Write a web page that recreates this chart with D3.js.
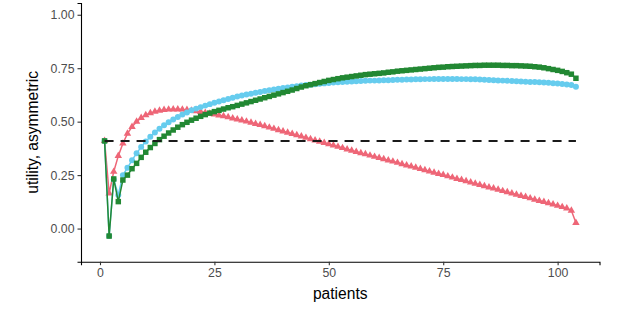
<!DOCTYPE html>
<html>
<head>
<meta charset="utf-8">
<script src="https://cdn.jsdelivr.net/npm/d3@7"></script>
<style>
  body { margin: 0; background: #fff; }
  svg { font-family: "Liberation Sans", Arial, sans-serif; }
</style>
</head>
<body>
<div id="chart"></div>
<script>
// patients 1..104
var patients = d3.range(1, 105);

// red triangles
var seriesRed = [
  0.410, 0.165, 0.266, 0.340, 0.398, 0.444, 0.476, 0.500, 0.518, 0.531,
  0.540, 0.547, 0.552, 0.555, 0.557, 0.558, 0.558, 0.557, 0.555, 0.552,
  0.549, 0.546, 0.542, 0.538, 0.534, 0.530, 0.526, 0.521, 0.516, 0.511,
  0.506, 0.501, 0.496, 0.490, 0.485, 0.479, 0.473, 0.467, 0.461, 0.455,
  0.449, 0.443, 0.437, 0.431, 0.425, 0.419, 0.413, 0.407, 0.401, 0.395,
  0.389, 0.383, 0.377, 0.371, 0.365, 0.359, 0.353, 0.348, 0.342, 0.336,
  0.331, 0.325, 0.319, 0.314, 0.308, 0.302, 0.296, 0.291, 0.285, 0.279,
  0.274, 0.268, 0.262, 0.256, 0.251, 0.245, 0.239, 0.233, 0.228, 0.222,
  0.216, 0.210, 0.205, 0.199, 0.193, 0.188, 0.182, 0.176, 0.171, 0.165,
  0.159, 0.153, 0.148, 0.142, 0.136, 0.130, 0.125, 0.119, 0.113, 0.107,
  0.101, 0.095, 0.084, 0.027
];

// cyan circles
var seriesCyan = [
  0.410, -0.035, 0.230, 0.157, 0.250, 0.284, 0.320, 0.352, 0.382, 0.407,
  0.429, 0.449, 0.467, 0.483, 0.497, 0.510, 0.522, 0.533, 0.543, 0.553,
  0.561, 0.568, 0.575, 0.582, 0.588, 0.594, 0.600, 0.606, 0.612, 0.618,
  0.622, 0.627, 0.631, 0.635, 0.639, 0.643, 0.647, 0.651, 0.654, 0.657,
  0.660, 0.663, 0.666, 0.669, 0.671, 0.673, 0.675, 0.677, 0.679, 0.681,
  0.683, 0.684, 0.686, 0.687, 0.688, 0.689, 0.690, 0.691, 0.692, 0.692,
  0.693, 0.694, 0.694, 0.695, 0.696, 0.696, 0.697, 0.697, 0.698, 0.698,
  0.699, 0.699, 0.700, 0.700, 0.700, 0.700, 0.700, 0.700, 0.699, 0.699,
  0.698, 0.698, 0.697, 0.696, 0.695, 0.694, 0.693, 0.692, 0.691, 0.690,
  0.689, 0.688, 0.687, 0.686, 0.685, 0.684, 0.683, 0.682, 0.680, 0.678,
  0.676, 0.674, 0.671, 0.663
];

// green squares
var seriesGreen = [
  0.410, -0.035, 0.232, 0.126, 0.227, 0.250, 0.280, 0.305, 0.333, 0.357,
  0.379, 0.398, 0.416, 0.432, 0.447, 0.461, 0.474, 0.486, 0.497, 0.507,
  0.516, 0.525, 0.533, 0.540, 0.547, 0.553, 0.559, 0.565, 0.570, 0.576,
  0.582, 0.588, 0.594, 0.600, 0.606, 0.612, 0.618, 0.624, 0.630, 0.636,
  0.642, 0.648, 0.655, 0.662, 0.668, 0.673, 0.678, 0.683, 0.688, 0.693,
  0.697, 0.701, 0.705, 0.708, 0.711, 0.714, 0.717, 0.720, 0.722, 0.724,
  0.726, 0.728, 0.731, 0.733, 0.736, 0.738, 0.740, 0.742, 0.744, 0.746,
  0.748, 0.750, 0.752, 0.754, 0.755, 0.757, 0.758, 0.759, 0.760, 0.761,
  0.762, 0.763, 0.763, 0.764, 0.764, 0.764, 0.764, 0.763, 0.763, 0.762,
  0.762, 0.761, 0.760, 0.759, 0.757, 0.755, 0.752, 0.748, 0.744, 0.740,
  0.735, 0.729, 0.722, 0.703
];

// dashed reference level
var threshold = 0.41;

var xTicks = [0, 25, 50, 75, 100];
var yTicks = [0, 0.25, 0.5, 0.75, 1];

var width = 623, height = 311;
var margin = { top: 3, right: 23.5, bottom: 49.3, left: 81 };

var svg = d3.select('#chart')
  .append('svg')
  .attr('width', width)
  .attr('height', height);

// ggplot style 5% expansion
var xMin = 1, xMax = 104, xPad = (xMax - xMin) * 0.05;
var x = d3.scaleLinear()
  .domain([xMin - xPad, xMax + xPad])
  .range([margin.left, width - margin.right]);

var yLo = -0.1, yHi = 1, yPad = (yHi - yLo) * 0.05;
var y = d3.scaleLinear()
  .domain([yLo - yPad, yHi + yPad])
  .range([height - margin.bottom, margin.top]);

var series = [
  { values: seriesRed, color: '#EE6677', shape: d3.symbolTriangle, size: 24 },
  { values: seriesCyan, color: '#66CCEE', shape: d3.symbolCircle, size: 28 },
  { values: seriesGreen, color: '#228833', shape: d3.symbolSquare, size: 30 }
];

var line = d3.line()
  .x(function (d) { return x(d[0]); })
  .y(function (d) { return y(d[1]); });

series.forEach(function (s) {
  var pts = patients.map(function (p, i) { return [p, s.values[i]]; });
  var g = svg.append('g');
  g.append('path')
    .datum(pts)
    .attr('d', line)
    .attr('fill', 'none')
    .attr('stroke', s.color)
    .attr('stroke-width', 1.5);
  g.selectAll('path.pt')
    .data(pts)
    .enter()
    .append('path')
    .attr('class', 'pt')
    .attr('transform', function (d) {
      return 'translate(' + x(d[0]) + ',' + y(d[1]) + ')';
    })
    .attr('d', d3.symbol().type(s.shape).size(s.size))
    .attr('fill', s.color);
});

// dashed threshold line
svg.append('path')
  .datum([[d3.min(patients), threshold], [d3.max(patients), threshold]])
  .attr('d', line)
  .attr('fill', 'none')
  .attr('stroke', '#1a1a1a')
  .attr('stroke-width', 2)
  .attr('stroke-dasharray', '9,7');

// axes
var xAxis = svg.append('g')
  .attr('transform', 'translate(0,' + (height - margin.bottom) + ')')
  .call(d3.axisBottom(x).tickValues(xTicks).tickSize(3.5).tickPadding(3)
    .tickFormat(d3.format('d')));

var yAxis = svg.append('g')
  .attr('transform', 'translate(' + margin.left + ',0)')
  .call(d3.axisLeft(y).tickValues(yTicks).tickSize(3.5).tickPadding(3)
    .tickFormat(d3.format('.2f')));

[xAxis, yAxis].forEach(function (a) {
  a.select('.domain').attr('stroke', '#000').attr('stroke-width', 1.1);
  a.selectAll('.tick line').attr('stroke', '#333').attr('stroke-width', 1.1);
  a.selectAll('.tick text')
    .attr('fill', '#4d4d4d')
    .style('font-size', '12.3px')
    .style('font-family', '"Liberation Sans", Arial, sans-serif');
});

// axis titles
svg.append('text')
  .attr('x', (margin.left + width - margin.right) / 2)
  .attr('y', 299)
  .attr('text-anchor', 'middle')
  .style('font-size', '15.6px')
  .attr('fill', '#000')
  .text('patients');

svg.append('text')
  .attr('transform', 'translate(38,' + ((margin.top + height - margin.bottom) / 2) + ') rotate(-90)')
  .attr('text-anchor', 'middle')
  .style('font-size', '15.6px')
  .attr('fill', '#000')
  .text('utility, asymmetric');
</script>
</body>
</html>
